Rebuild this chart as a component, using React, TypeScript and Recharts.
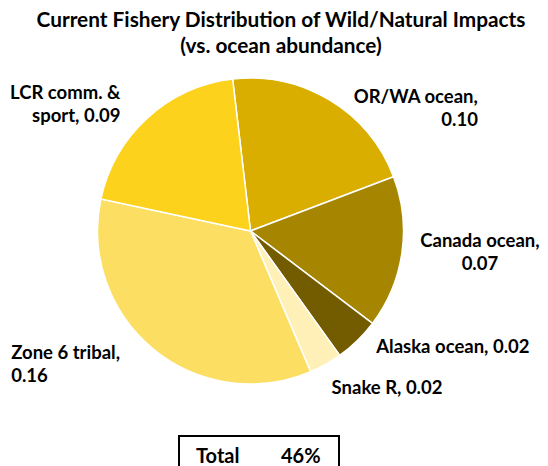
import React from 'react';
import { PieChart, Pie, Cell } from 'recharts';

const fisheries = ['OR/WA ocean', 'Canada ocean', 'Alaska ocean', 'Snake R', 'Zone 6 tribal', 'LCR comm. & sport'];
const impacts = [0.097, 0.074, 0.022, 0.016, 0.160, 0.091];
const colors = ['#D9AE00', '#A68600', '#735C00', '#FFF0B8', '#FCDE62', '#FCD21C'];
const totalLabel = 'Total';
const totalValue = '46%';

const data = fisheries.map((name, i) => ({ name, value: impacts[i] }));

const FONT = 'Lato, "Noto Sans", sans-serif';

// where each label sits relative to the slice's outer edge point
const labelPos = [
  { dx: 148, dy: -4, anchor: 'end', split: true },
  { dx: 78, dy: -13, anchor: 'middle', split: true },
  { dx: 19, dy: 5, anchor: 'start', split: false },
  { dx: 6, dy: 23, anchor: 'start', split: false },
  { dx: -142, dy: 3, anchor: 'start', split: true },
  { dx: -27, dy: -26, anchor: 'end', split: true },
];

const RAD = Math.PI / 180;

const renderLabel = (props: any) => {
  const { cx, cy, midAngle, outerRadius, index, name, value } = props;
  const p = labelPos[index];
  const x = cx + outerRadius * Math.cos(-midAngle * RAD) + p.dx;
  const y = cy + outerRadius * Math.sin(-midAngle * RAD) + p.dy;
  const v = Number(value).toFixed(2);
  let lines: string[];
  if (p.split) {
    if (name === 'LCR comm. & sport') lines = ['LCR comm. &', 'sport, ' + v];
    else lines = [name + ',', v];
  } else lines = [name + ', ' + v];
  return (
    <text x={x} y={y} textAnchor={p.anchor} dominantBaseline="central" fill="#000" fontFamily={FONT} fontWeight={700} fontSize={18.5}>
      {lines.map((l, i) => (
        <tspan key={i} x={x} dy={i === 0 ? 0 : 23}>{l}</tspan>
      ))}
    </text>
  );
};

const App = () => {
  return (
    <div style={{ position: 'absolute', left: 0, top: 0, width: 548, height: 466, background: '#fff', overflow: 'hidden' }}>
      <div style={{ position: 'absolute', left: 0, top: 6, width: 562, textAlign: 'center', fontFamily: FONT, fontWeight: 700, fontSize: 20.8, lineHeight: '26px', color: '#000' }}>
        Current Fishery Distribution of Wild/Natural Impacts
        <br />
        (vs. ocean abundance)
      </div>
      <div style={{ position: 'absolute', left: 0, top: 0 }}>
        <PieChart width={548} height={466} margin={{ top: 0, right: 0, bottom: 0, left: 0 }}>
          <Pie
            data={data}
            dataKey="value"
            nameKey="name"
            cx={250.5}
            cy={231}
            outerRadius={153}
            startAngle={96.7}
            endAngle={-263.3}
            stroke="#fff"
            strokeWidth={1.5}
            label={renderLabel}
            labelLine={false}
            isAnimationActive={false}
          >
            {data.map((d, i) => (
              <Cell key={d.name} fill={colors[i]} />
            ))}
          </Pie>
        </PieChart>
      </div>
      <div style={{ position: 'absolute', left: 178, top: 435, width: 158, height: 40, border: '2px solid #000', fontFamily: FONT, fontWeight: 700, fontSize: 20, color: '#000' }}>
        <span style={{ position: 'absolute', left: 16, top: 6 }}>{totalLabel}</span>
        <span style={{ position: 'absolute', left: 101, top: 6 }}>{totalValue}</span>
      </div>
    </div>
  );
};

export default App;
